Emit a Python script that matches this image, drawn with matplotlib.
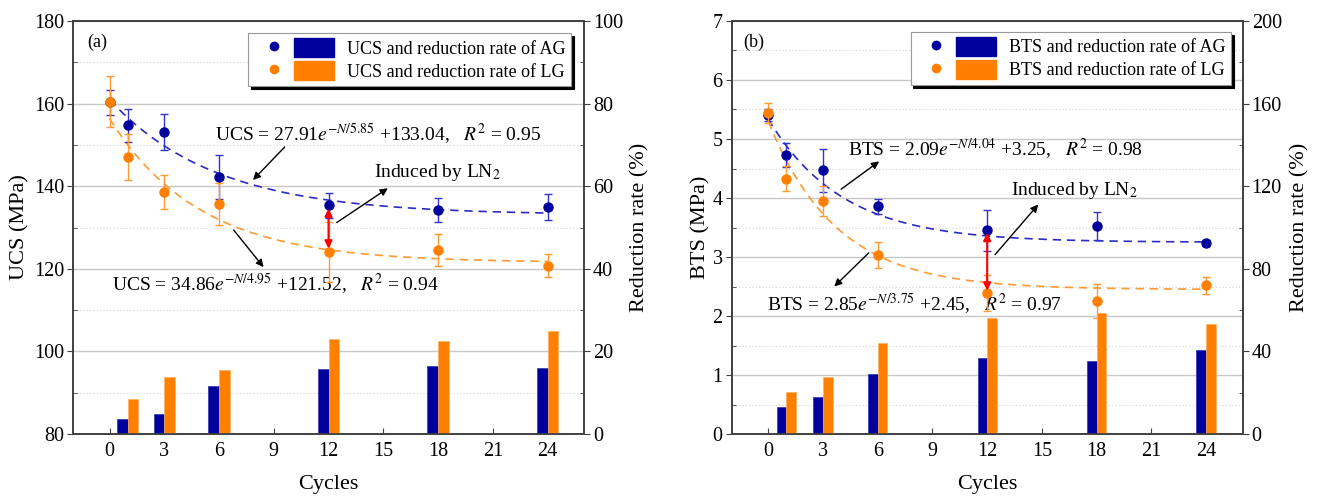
import numpy as np
import matplotlib
matplotlib.use("Agg")
import matplotlib.pyplot as plt
from matplotlib.ticker import MultipleLocator
from matplotlib.lines import Line2D
from matplotlib.patches import Patch
from matplotlib.legend_handler import HandlerTuple

plt.rcParams["font.family"] = ["Liberation Serif", "DejaVu Serif"]
plt.rcParams["mathtext.fontset"] = "stix"

# ---- data ----
cycles = [0, 1, 3, 6, 12, 18, 24]
bar_cycles = [1, 3, 6, 12, 18, 24]

ucs_ag = [160.3, 154.8, 153.1, 142.2, 135.4, 134.3, 134.9]
ucs_ag_err = [3.0, 4.0, 4.3, 5.3, 3.0, 2.9, 3.1]
ucs_lg = [160.5, 147.1, 138.7, 135.7, 124.0, 124.5, 120.8]
ucs_lg_err = [6.2, 5.5, 4.1, 5.0, 7.3, 3.9, 2.9]
ucs_red_ag = [3.6, 4.8, 11.6, 15.8, 16.5, 16.1]
ucs_red_lg = [8.4, 13.7, 15.5, 23.0, 22.5, 24.9]

bts_ag = [5.40, 4.73, 4.47, 3.86, 3.45, 3.52, 3.23]
bts_ag_err = [0.10, 0.20, 0.36, 0.13, 0.35, 0.24, 0.05]
bts_lg = [5.44, 4.33, 3.95, 3.04, 2.39, 2.26, 2.52]
bts_lg_err = [0.17, 0.21, 0.25, 0.22, 0.30, 0.29, 0.14]
bts_red_ag = [13.0, 17.8, 29.1, 36.7, 35.4, 40.8]
bts_red_lg = [20.5, 27.5, 44.0, 56.2, 58.7, 53.5]

# fitted curves as printed on the chart: y = a*exp(-N/t) + c
ucs_fit_ag = [27.91, 5.85, 133.04]
ucs_fit_lg = [34.86, 4.95, 121.52]
bts_fit_ag = [2.09, 4.04, 3.25]
bts_fit_lg = [2.85, 3.75, 2.45]

BLUE = "#00009C"; BLUE_E = "#3434C8"; BLUE_L = "#2B2BC0"
ORANGE = "#FF8000"; ORANGE_E = "#FF9A33"
GRID = "#C8C8C8"; SPINE = "#404040"
FS_TICK = 14.5; FS_LAB = 16; FS_EQ = 14


def panel(rect, ylim, ystep, y2lim, y2step, ag, ag_err, lg, lg_err, red_ag, red_lg,
          fit_ag, fit_lg, barw, ylabel, name, leg_anchor):
    ax = fig.add_axes(rect)
    ax2 = ax.twinx()
    ax.set_xlim(-2, 26)
    ax.set_ylim(*ylim)
    ax2.set_ylim(*y2lim)
    ax.set_xticks(range(0, 25, 3))
    ax.yaxis.set_major_locator(MultipleLocator(ystep))
    ax.yaxis.set_minor_locator(MultipleLocator(ystep / 2))
    ax2.yaxis.set_major_locator(MultipleLocator(y2step))
    ax2.yaxis.set_minor_locator(MultipleLocator(y2step / 2))
    ax.set_axisbelow(True)
    ax.grid(axis="y", which="major", color=GRID, lw=1.0, ls="-")
    ax.grid(axis="y", which="minor", color="#D4D4D4", lw=0.8, ls=(0, (1, 2)))

    ax.tick_params(axis="x", direction="in", length=4, labelsize=FS_TICK, pad=6, color=SPINE)
    ax.tick_params(axis="y", which="major", direction="out", length=4, pad=2.5, labelsize=FS_TICK, color=SPINE)
    ax.tick_params(axis="y", which="minor", direction="in", length=3, color=SPINE)
    ax2.tick_params(axis="y", which="major", direction="out", length=4, pad=2.5, labelsize=FS_TICK, color=SPINE)
    ax2.tick_params(axis="y", which="minor", direction="in", length=3, color=SPINE)
    for a in (ax, ax2):
        for s in a.spines.values():
            s.set_color(SPINE); s.set_linewidth(1.2)

    # bars (reduction rate, right axis)
    ax2.bar(bar_cycles, red_ag, width=-barw, align="edge", color=BLUE, edgecolor="#3030B0", lw=0.5)
    ax2.bar(bar_cycles, red_lg, width=barw, align="edge", color=ORANGE, edgecolor="#FFB060", lw=0.5)

    # fitted curves
    N = np.linspace(0, 24, 200)
    ax.plot(N, fit_ag[0] * np.exp(-N / fit_ag[1]) + fit_ag[2], color=BLUE_L, lw=1.2, ls=(0, (5, 3.5)), zorder=3)
    ax.plot(N, fit_lg[0] * np.exp(-N / fit_lg[1]) + fit_lg[2], color=ORANGE_E, lw=1.2, ls=(0, (5, 3.5)), zorder=3)

    # points with error bars
    ax.errorbar(cycles, ag, yerr=ag_err, fmt="o", ms=6.5, mfc=BLUE, mec=BLUE, ecolor=BLUE_E,
                elinewidth=1.0, capsize=3.2, capthick=1.0, zorder=4)
    ax.errorbar(cycles, lg, yerr=lg_err, fmt="o", ms=6.5, mfc=ORANGE, mec=ORANGE, ecolor=ORANGE_E,
                elinewidth=1.0, capsize=3.2, capthick=1.0, zorder=5)

    ax.set_xlabel("Cycles", fontsize=FS_LAB)
    ax.xaxis.set_label_coords(0.5, -0.1)
    ax.set_ylabel(ylabel, fontsize=FS_LAB)
    ax2.set_ylabel("Reduction rate (%)", fontsize=FS_LAB)

    h1 = (Line2D([], [], ls="none", marker="o", ms=6, color=BLUE), Patch(fc=BLUE, ec=BLUE))
    h2 = (Line2D([], [], ls="none", marker="o", ms=6, color=ORANGE), Patch(fc=ORANGE, ec=ORANGE))
    leg = ax2.legend([h1, h2], [f"{name} and reduction rate of AG", f"{name} and reduction rate of LG"],
                     handler_map={tuple: HandlerTuple(ndivide=None, pad=0.0)},
                     loc="upper right", bbox_to_anchor=leg_anchor, borderaxespad=0,
                     fontsize=13, handlelength=4.45, handleheight=1.2, handletextpad=0.72,
                     labelspacing=0.2, borderpad=0.3, fancybox=False, framealpha=1,
                     edgecolor="#999999", shadow={"color": "black", "alpha": 1.0})
    leg.get_frame().set_linewidth(0.8)
    return ax, ax2


def arrow(ax, tail, head, color="black", style="-|>", lw=1.0):
    ax.annotate("", xy=head, xytext=tail,
                arrowprops=dict(arrowstyle=style, color=color, lw=lw, mutation_scale=11,
                                shrinkA=0, shrinkB=0), zorder=6)


fig = plt.figure(figsize=(13.21, 5.01), dpi=100)

# ---- (a) UCS ----
axa, axa2 = panel([0.0553, 0.1337, 0.3868, 0.8244], (80, 180), 20, (0, 100), 20,
                  ucs_ag, ucs_ag_err, ucs_lg, ucs_lg_err, ucs_red_ag, ucs_red_lg,
                  ucs_fit_ag, ucs_fit_lg, 0.58, "UCS (MPa)", "UCS", (0.975, 0.971))
axa.yaxis.set_label_coords(-0.086, 0.5)
axa2.yaxis.set_label_coords(1.09, 0.5)
axa.text(0.027, 0.949, "(a)", transform=axa.transAxes, fontsize=13, va="center")
axa.text(5.8, 152.8, r"UCS = 27.91$e^{-N/5.85}$ +133.04,   $R^2$ = 0.95", fontsize=FS_EQ, va="center")
axa.text(0.13, 116.5, r"UCS = 34.86$e^{-N/4.95}$ +121.52,   $R^2$ = 0.94", fontsize=FS_EQ, va="center")
axa.text(14.5, 143.3, r"Induced by LN$_2$", fontsize=14, va="center")
arrow(axa, (9.6, 149.5), (7.86, 141.5))
arrow(axa, (6.8, 129.4), (8.44, 120.4))
arrow(axa, (12.45, 131.2), (15.25, 139.5))
arrow(axa, (12, 124.9), (12, 134.6), color="red", style="<|-|>", lw=1.5)

# ---- (b) BTS ----
axb, axb2 = panel([0.5539, 0.1337, 0.3868, 0.8244], (0, 7), 1, (0, 200), 40,
                  bts_ag, bts_ag_err, bts_lg, bts_lg_err, bts_red_ag, bts_red_lg,
                  bts_fit_ag, bts_fit_lg, 0.53, "BTS (MPa)", "BTS", (0.978, 0.974))
axb.yaxis.set_label_coords(-0.0425, 0.5)
axb2.yaxis.set_label_coords(1.0926, 0.5)
axb.text(0.023, 0.949, "(b)", transform=axb.transAxes, fontsize=13, va="center")
axb.text(4.37, 4.84, r"BTS = 2.09$e^{-N/4.04}$ +3.25,   $R^2$ = 0.98", fontsize=FS_EQ, va="center")
axb.text(-0.08, 2.22, r"BTS = 2.85$e^{-N/3.75}$ +2.45,   $R^2$ = 0.97", fontsize=FS_EQ, va="center")
axb.text(13.29, 4.13, r"Induced by LN$_2$", fontsize=14, va="center")
arrow(axb, (4.0, 4.15), (6.08, 4.62))
arrow(axb, (5.51, 3.07), (3.62, 2.50))
arrow(axb, (12.43, 3.04), (14.8, 3.89))
arrow(axb, (12, 2.43), (12, 3.41), color="red", style="<|-|>", lw=1.5)

fig.savefig("out.png", dpi=100, facecolor="white")
